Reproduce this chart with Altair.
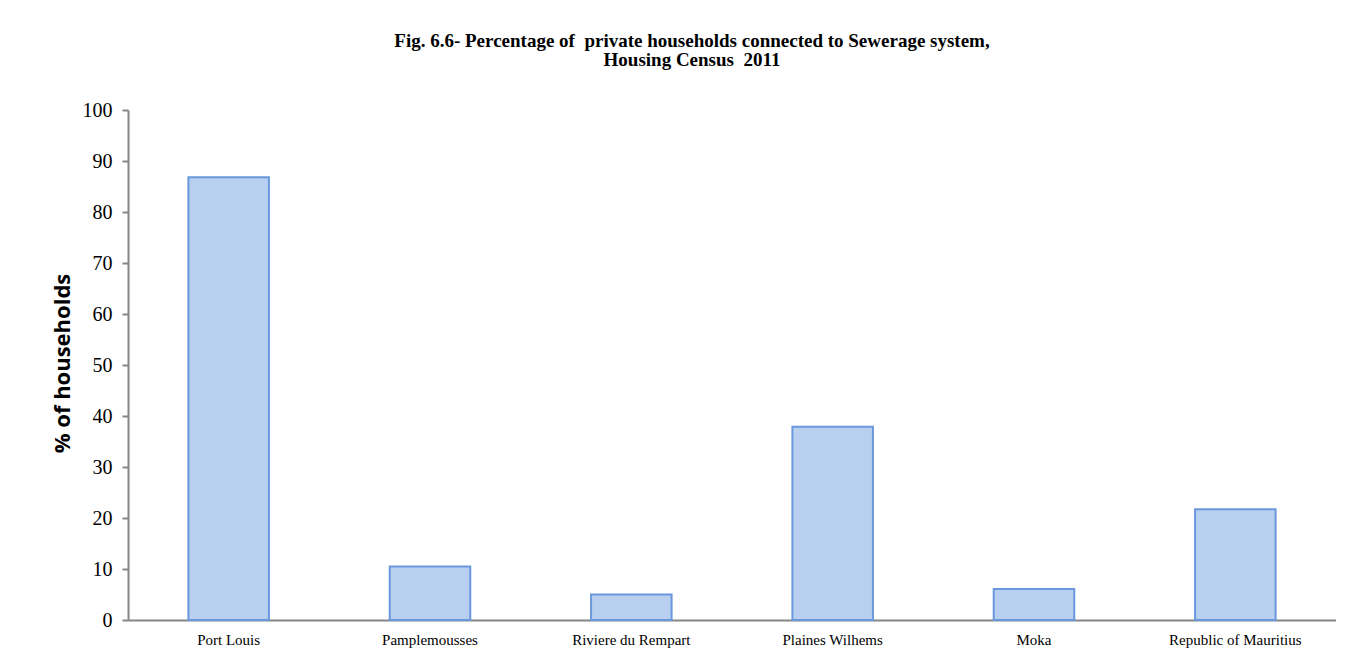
import altair as alt
import pandas as pd

regions = ["Port Louis", "Pamplemousses", "Riviere du Rempart", "Plaines Wilhems", "Moka", "Republic of Mauritius"]
percent = [86.8, 10.5, 5.0, 37.9, 6.1, 21.7]
y_ticks = [0, 10, 20, 30, 40, 50, 60, 70, 80, 90, 100]

df = pd.DataFrame({"region": regions, "pct": percent})

axis_gray = "#868686"

bars = alt.Chart(df).mark_bar(
    fill="#b9cff0", stroke="#6a98dc", strokeWidth=2
).encode(
    x=alt.X("region:N", sort=regions, title=None,
            scale=alt.Scale(paddingInner=0.6, paddingOuter=0.3),
            axis=alt.Axis(labelAngle=0, labelFont="Liberation Serif", labelFontSize=15,
                          labelColor="#000000", labelPadding=12, ticks=False,
                          domainColor=axis_gray, domainWidth=2)),
    y=alt.Y("pct:Q", title="% of households",
            scale=alt.Scale(domain=[0, 100], nice=False),
            axis=alt.Axis(values=y_ticks, grid=False, labelFont="Liberation Serif",
                          labelFontSize=20, labelColor="#000000", labelPadding=10,
                          tickSize=6, tickColor=axis_gray, tickWidth=2,
                          domainColor=axis_gray, domainWidth=2,
                          titleFont="Open Sans", titleFontSize=22, titleFontWeight="bold",
                          titleColor="#000000", titleAngle=270, titleX=-66, titleY=253,
                          titleAlign="center", titleBaseline="middle")),
)

chart = bars.properties(
    width=1208,
    height=510,
    padding={"left": 120, "top": 102, "right": 0, "bottom": 30},
    autosize=alt.AutoSizeParams(type="none"),
    title=alt.TitleParams(
        text=["Fig. 6.6- Percentage of\u00a0 private households connected to Sewerage system,",
              "Housing Census\u00a0 2011"],
        font="Liberation Serif", fontSize=19, fontWeight="bold", color="#000000",
        anchor="middle", dx=-40, offset=30, lineHeight=19),
).configure_view(stroke=None)

chart.save("out.html", embed_options={"renderer": "svg", "actions": False})
